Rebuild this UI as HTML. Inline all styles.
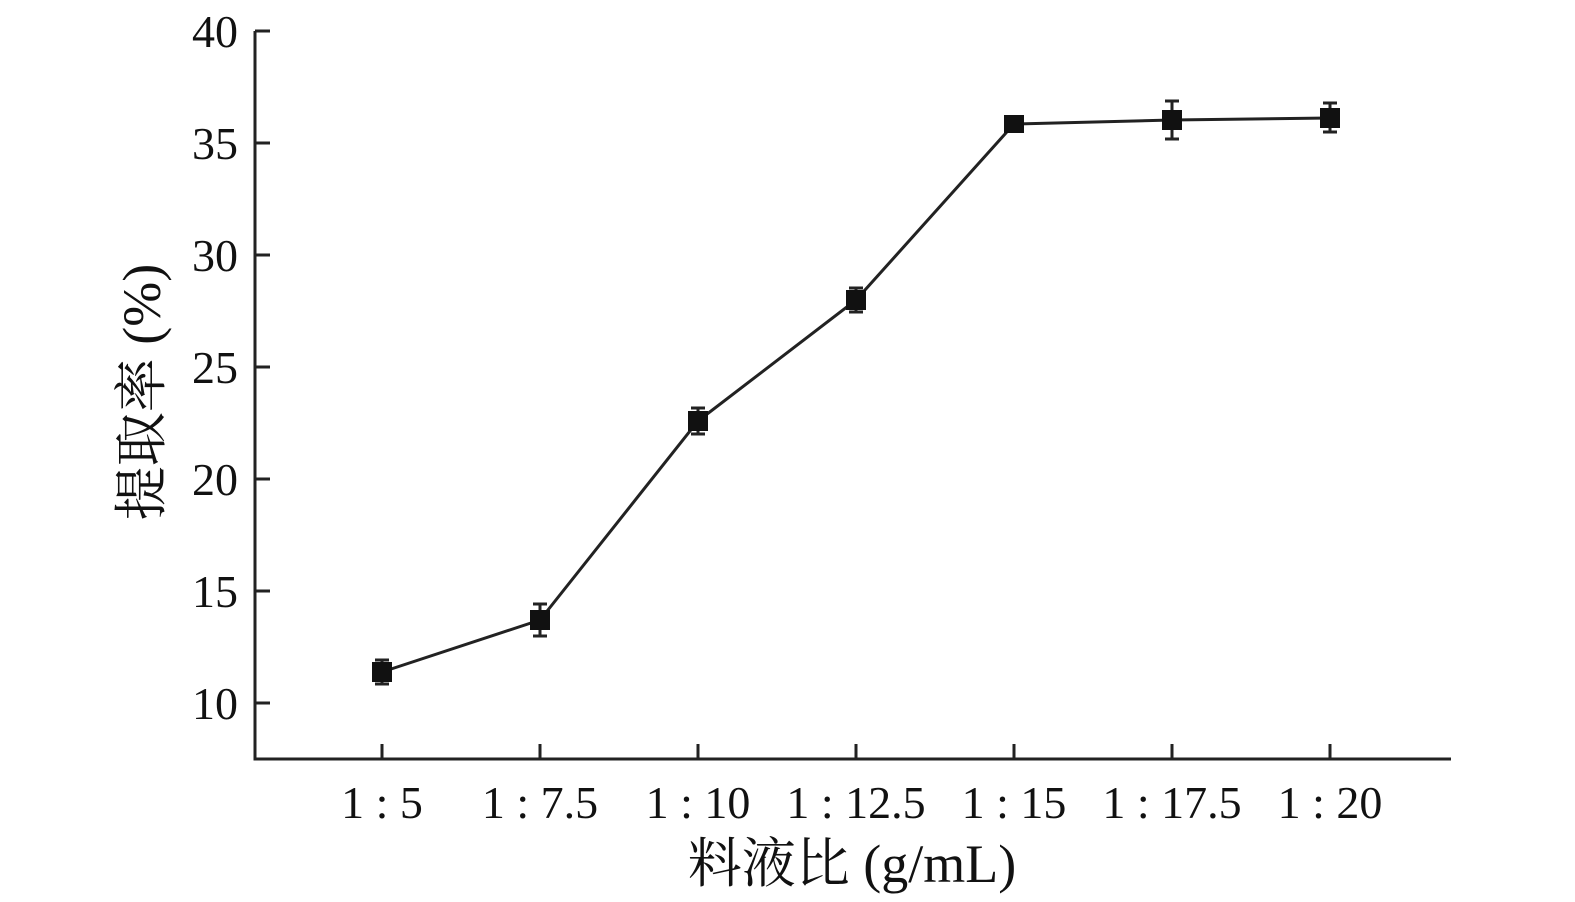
<html><body style="margin:0;background:#fff">
<svg width="1575" height="902" xmlns="http://www.w3.org/2000/svg" font-family="Liberation Serif, Noto Serif CJK SC, serif" fill="#111">
<g stroke="#222" stroke-width="3" fill="none">
<path d="M255,31 V759 H1451"/>
<path d="M255,31 h15 M255,143 h15 M255,255 h15 M255,367 h15 M255,479 h15 M255,591 h15 M255,703 h15"/>
<path d="M382,759 v-15 M540,759 v-15 M698,759 v-15 M856,759 v-15 M1014,759 v-15 M1172,759 v-15 M1330,759 v-15"/>
<polyline points="382,672 540,620 698,421 856,300 1014,124 1172,120 1330,118"/>
<path d="M382,660 v24 M375,660 h14 M375,684 h14
M540,604 v32 M533,604 h14 M533,636 h14
M698,408 v26 M691,408 h14 M691,434 h14
M856,288 v24 M849,288 h14 M849,312 h14
M1014,117 v14 M1007,117 h14 M1007,131 h14
M1172,101 v38 M1165,101 h14 M1165,139 h14
M1330,103 v29 M1323,103 h14 M1323,132 h14"/>
</g>
<g fill="#111">
<rect x="372" y="662" width="20" height="20"/><rect x="530" y="610" width="20" height="20"/>
<rect x="688" y="411" width="20" height="20"/><rect x="846" y="290" width="20" height="20"/>
<rect x="1004" y="115" width="20" height="18"/><rect x="1162" y="110" width="20" height="20"/>
<rect x="1320" y="108" width="20" height="20"/>
</g>
<g font-size="46" text-anchor="end">
<text x="238" y="47">40</text><text x="238" y="159">35</text><text x="238" y="271">30</text>
<text x="238" y="383">25</text><text x="238" y="495">20</text><text x="238" y="607">15</text><text x="238" y="719">10</text>
</g>
<g font-size="46" text-anchor="middle">
<text x="382" y="818">1 : 5</text><text x="540" y="818">1 : 7.5</text><text x="698" y="818">1 : 10</text>
<text x="856" y="818">1 : 12.5</text><text x="1014" y="818">1 : 15</text><text x="1172" y="818">1 : 17.5</text>
<text x="1330" y="818">1 : 20</text>
<text x="852" y="882" font-size="54">料液比 (g/mL)</text>
<text transform="translate(160,392) rotate(-90)" font-size="54">提取率 (%)</text>
</g>
</svg>
</body></html>
